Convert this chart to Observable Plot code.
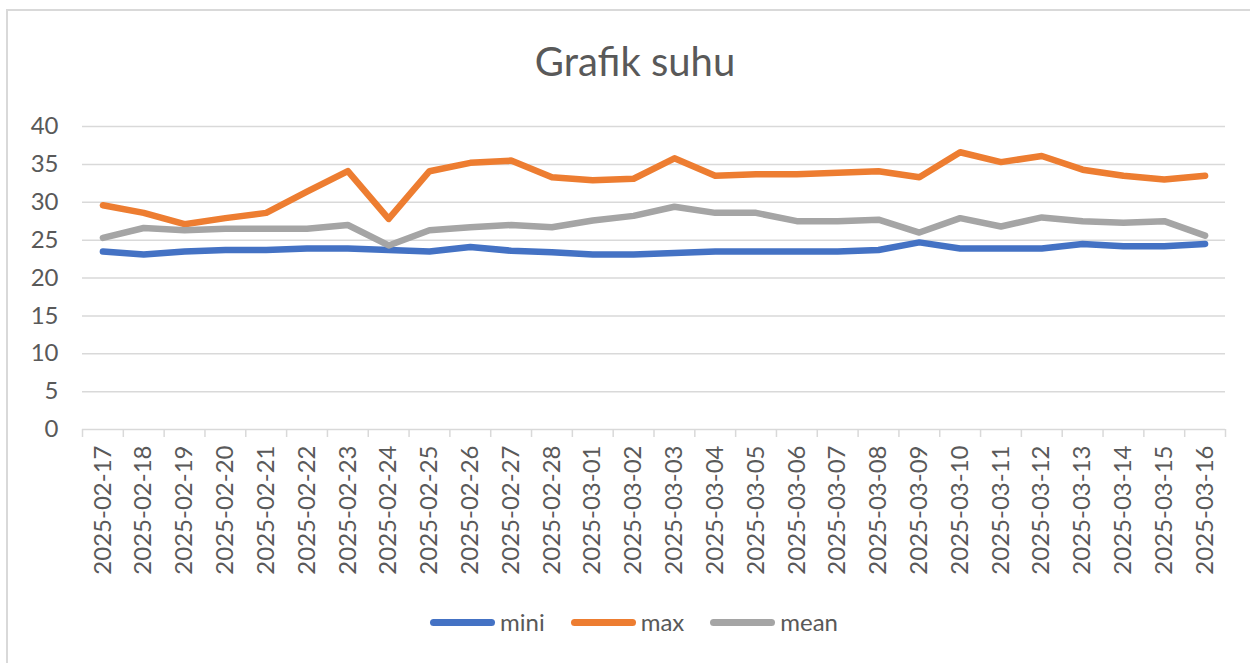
<!DOCTYPE html>
<html>
<head>
<meta charset="utf-8">
<script src="https://cdn.jsdelivr.net/npm/d3@7"></script>
<script src="https://cdn.jsdelivr.net/npm/@observablehq/plot@0.6"></script>
<style>
  html, body { margin: 0; padding: 0; background: #fff; }
  body { width: 1250px; height: 663px; position: relative; overflow: hidden; font-family: Lato, "Liberation Sans", sans-serif; color: #595959; }
  #frame { position: absolute; left: 6px; top: 9px; width: 1260px; height: 670px; border-left: 2px solid #d9d9d9; border-top: 2px solid #d9d9d9; box-sizing: border-box; }
  #title { position: absolute; left: 0; top: 41px; width: 1270px; text-align: center; font-size: 40px; line-height: 40px; color: #595959; }
  #chart { position: absolute; left: 0; top: 100px; }
  #legend { position: absolute; left: 0; top: 606px; width: 1268px; display: flex; justify-content: center; align-items: center; gap: 26px; font-size: 24px; line-height: 32px; color: #595959; }
  .item { display: flex; align-items: center; }
  .swatch { display: inline-block; width: 65px; height: 7px; border-radius: 4px; margin-right: 5px; }
</style>
</head>
<body>
<div id="frame"></div>
<div id="title">Grafik suhu</div>
<div id="chart"></div>
<div id="legend"></div>
<script>
const dates = [
  "2025-02-17","2025-02-18","2025-02-19","2025-02-20","2025-02-21","2025-02-22","2025-02-23",
  "2025-02-24","2025-02-25","2025-02-26","2025-02-27","2025-02-28","2025-03-01","2025-03-02",
  "2025-03-03","2025-03-04","2025-03-05","2025-03-06","2025-03-07","2025-03-08","2025-03-09",
  "2025-03-10","2025-03-11","2025-03-12","2025-03-13","2025-03-14","2025-03-15","2025-03-16"
];
const mini = [23.5, 23.1, 23.5, 23.7, 23.7, 23.9, 23.9, 23.7, 23.5, 24.1, 23.6, 23.4, 23.1, 23.1,
              23.3, 23.5, 23.5, 23.5, 23.5, 23.7, 24.7, 23.9, 23.9, 23.9, 24.5, 24.2, 24.2, 24.5];
const max  = [29.6, 28.6, 27.1, 27.9, 28.6, 31.4, 34.1, 27.8, 34.1, 35.2, 35.5, 33.3, 32.9, 33.1,
              35.8, 33.5, 33.7, 33.7, 33.9, 34.1, 33.3, 36.6, 35.3, 36.1, 34.3, 33.5, 33.0, 33.5];
const mean = [25.3, 26.6, 26.3, 26.5, 26.5, 26.5, 27.0, 24.3, 26.3, 26.7, 27.0, 26.7, 27.6, 28.2,
              29.4, 28.6, 28.6, 27.5, 27.5, 27.7, 26.0, 27.9, 26.8, 28.0, 27.5, 27.3, 27.5, 25.6];
const seriesNames = ["mini", "max", "mean"];
const seriesColors = ["#4472C4", "#ED7D31", "#A5A5A5"];
const yTicks = [0, 5, 10, 15, 20, 25, 30, 35, 40];

const seriesValues = {mini, max, mean};
const data = seriesNames.flatMap(name => seriesValues[name].map((v, i) => ({date: dates[i], value: v, series: name})));

const W = 1250, H = 490, ML = 82, MR = 25;
const step = (W - ML - MR) / dates.length;

const chart = Plot.plot({
  width: W, height: H,
  marginLeft: ML, marginRight: MR, marginTop: 26, marginBottom: 161,
  style: {fontFamily: "Lato, 'Liberation Sans', sans-serif", fontSize: "24px", color: "#595959", background: "transparent", overflow: "visible"},
  x: {type: "point", domain: dates, padding: 0.5, round: false, label: null},
  y: {domain: [0, 40], label: null},
  color: {domain: seriesNames, range: seriesColors},
  marks: [
    Plot.ruleY(yTicks, {stroke: "#d9d9d9", strokeWidth: 1.5}),
    Plot.ruleX(dates, {x: d => d, y1: 0, y2: 0, insetBottom: -8, dx: -step / 2, stroke: "#d9d9d9", strokeWidth: 1.5}),
    Plot.ruleX([dates[dates.length - 1]], {x: d => d, y1: 0, y2: 0, insetBottom: -8, dx: step / 2, stroke: "#d9d9d9", strokeWidth: 1.5}),
    Plot.axisY({ticks: yTicks, tickSize: 0, tickPadding: 24, fontSize: 24, fill: "#595959"}),
    Plot.axisX({tickSize: 0, tickPadding: 16, tickRotate: -90, fontSize: 24, fill: "#595959"}),
    Plot.line(data, {x: "date", y: "value", z: "series", stroke: "series", strokeWidth: 6.5, strokeLinejoin: "round", strokeLinecap: "round"})
  ]
});
document.getElementById("chart").appendChild(chart);

const legend = document.getElementById("legend");
seriesNames.forEach((name, i) => {
  const item = document.createElement("div");
  item.className = "item";
  const sw = document.createElement("span");
  sw.className = "swatch";
  sw.style.background = seriesColors[i];
  const label = document.createElement("span");
  label.textContent = name;
  item.appendChild(sw);
  item.appendChild(label);
  legend.appendChild(item);
});
</script>
</body>
</html>
